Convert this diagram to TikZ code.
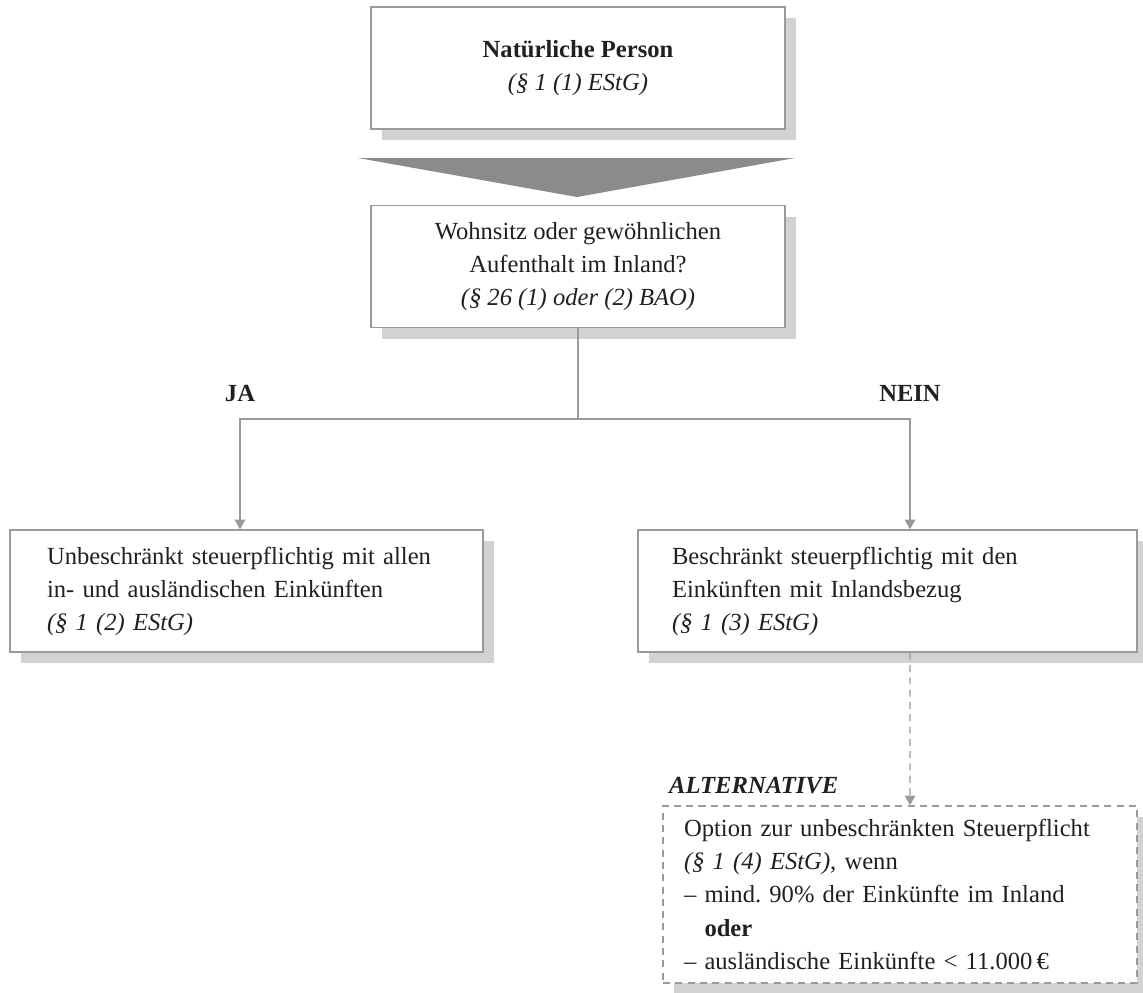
\documentclass[tikz,border=0pt]{standalone}
\usepackage{fontspec}
\setmainfont{Liberation Serif}
\usetikzlibrary{arrows.meta}
\usetikzlibrary{shadows}
\frenchspacing
\definecolor{linegray}{HTML}{9A9A9C}
\definecolor{shadowgray}{HTML}{D1D2D4}
\definecolor{wedgegray}{HTML}{8B8B8D}
\definecolor{inkblack}{HTML}{231F20}
\tikzstyle{box} = [rectangle, draw=linegray, line width=0.8pt, fill=white, text=inkblack, drop shadow={shadow xshift=0.22cm, shadow yshift=-0.22cm, fill=shadowgray, opacity=1}]
\tikzstyle{centerbox} = [box, minimum width=8.28cm, minimum height=2.44cm, align=center]
\tikzstyle{leftbox} = [box, minimum height=2.44cm, align=left, inner ysep=0pt]
\tikzstyle{altbox} = [box, dashed, dash pattern=on 4pt off 3pt, minimum height=3.54cm, align=left, inner xsep=0.42cm, text width=8.64cm]
\tikzstyle{label} = [text=inkblack, font=\fontsize{14}{18.8}\selectfont\bfseries]
\tikzstyle{arrow} = [draw=linegray, line width=0.8pt, ->, >={Triangle[width=6pt,length=5.5pt]}]

\begin{document}
\begin{tikzpicture}[every node/.style={font=\fontsize{14}{18.8}\selectfont}]
            \useasboundingbox (0,0) rectangle (22.86,-19.86);
            \node[centerbox] (person) at (11.56,-1.36) {\textbf{Natürliche Person}\\\textit{(§ 1 (1) EStG)}};
            \fill[wedgegray] (7.16,-3.16) -- (15.9,-3.16) -- (11.54,-3.94) -- cycle;
            \node[centerbox, below of = person, yshift=-2.97cm] (question) {Wohnsitz oder gewöhnlichen\\Aufenthalt im Inland?\\\textit{(§ 26 (1) oder (2) BAO)}};
            \node[leftbox, below of = question, xshift=-6.63cm, yshift=-5.49cm, inner xsep=0.74cm, text width=7.98cm] (unbeschr) {Unbeschränkt steuerpflichtig mit allen\\in- und ausländischen Einkünften\\\textit{(§ 1 (2) EStG)}};
            \node[leftbox, below of = question, xshift=6.19cm, yshift=-5.49cm, inner xsep=0.68cm, text width=8.62cm] (beschr) {Beschränkt steuerpflichtig mit den\\Einkünften mit Inlandsbezug\\\textit{(§ 1 (3) EStG)}};
            \node[altbox, below of = beschr, xshift=0.25cm, yshift=-5.07cm] (option) {Option zur unbeschränkten Steuerpflicht\\\textit{(§ 1 (4) EStG)}, wenn\\– mind. 90\% der Einkünfte im Inland\\\phantom{– }\textbf{oder}\\– ausländische Einkünfte < 11.000\,€};
            \node[label, font=\fontsize{14}{18.8}\selectfont\bfseries\itshape, anchor=west] (alt) at (13.26,-15.72) {ALTERNATIVE};
            \node[label] (ja) at (4.8,-7.86) {JA};
            \node[label] (nein) at (18.2,-7.86) {NEIN};
            \coordinate (fork) at (question.south |- 0,-8.38);
            \draw[draw=linegray, line width=0.8pt] (question.south) -- (fork);
            \draw[arrow] (fork) -| ([xshift=-0.13cm]unbeschr.north);
            \draw[arrow] (fork) -| ([xshift=0.45cm]beschr.north);
            \draw[arrow, dashed, dash pattern=on 4pt off 3pt] ([xshift=0.45cm]beschr.south) -- ([xshift=0.2cm]option.north);
        \end{tikzpicture}
\end{document}
